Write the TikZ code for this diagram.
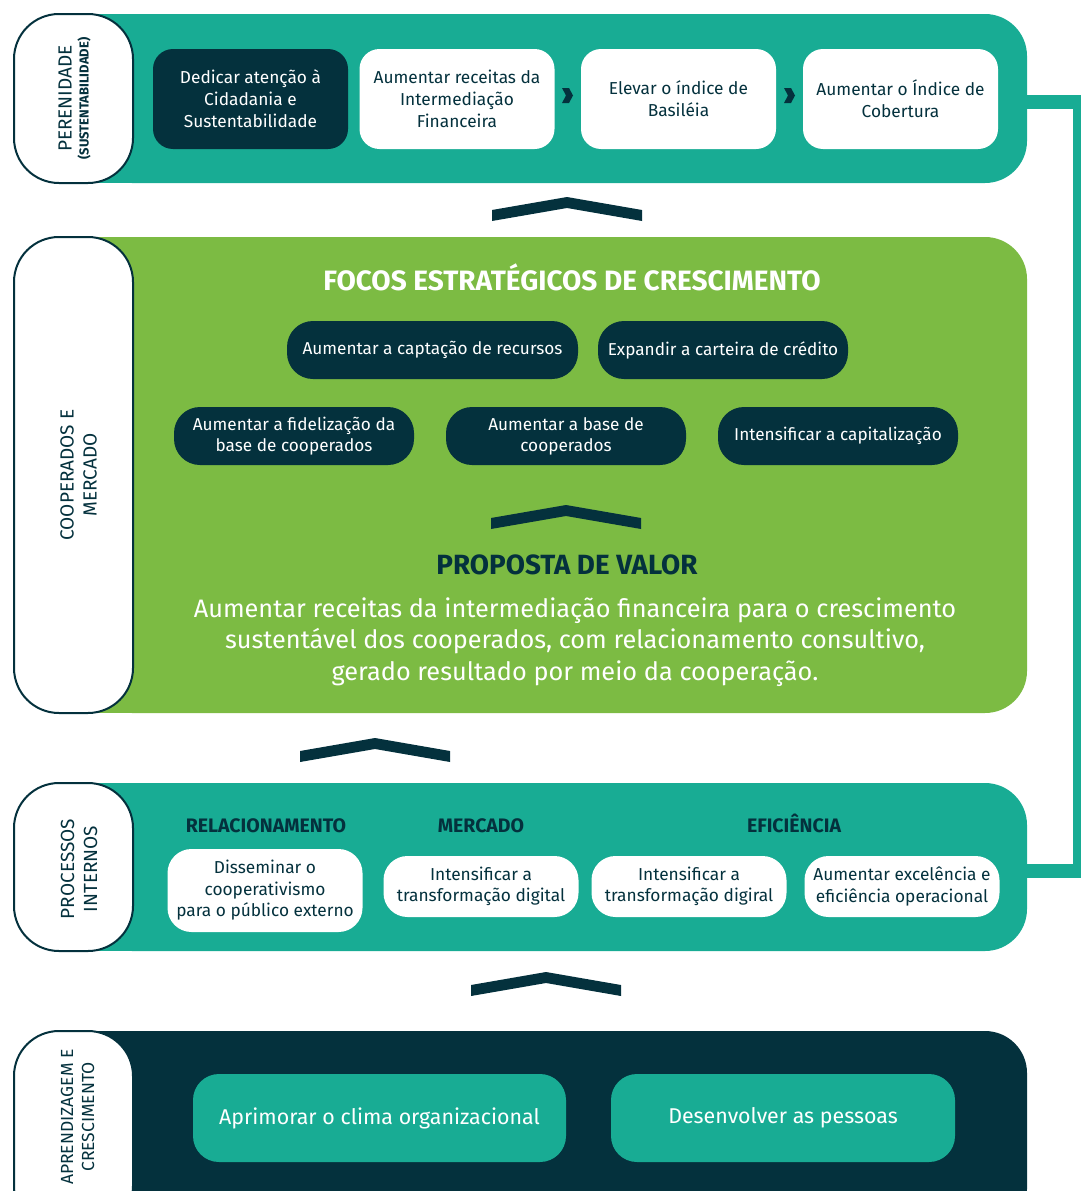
\documentclass[tikz,border=0pt]{standalone}
\usepackage{fontspec}
\setmainfont{Fira Sans}
\usetikzlibrary{positioning}
\definecolor{coopteal}{HTML}{18AC94}
\definecolor{coopgreen}{HTML}{7CBB43}
\definecolor{coopdark}{HTML}{04313D}
\tikzset{band/.style={rounded corners=42pt,inner sep=0,outer sep=0,minimum width=937pt}}
\tikzset{pill/.style={draw=coopdark,line width=2pt,fill=white,rounded corners=45pt,minimum width=119pt,inner sep=0}}
\tikzset{side/.style={rotate=90,text=coopdark,align=center,font=\fontsize{19}{23}\selectfont}}
\tikzset{card/.style={rounded corners=20pt,inner sep=0,align=center,minimum width=195pt,minimum height=100pt,font=\fontsize{17.3}{22}\selectfont}}
\tikzset{wcard/.style={card,fill=white,text=coopdark}}
\tikzset{dcard/.style={card,fill=coopdark,text=white}}
\tikzset{focus/.style={dcard,rounded corners=26pt,minimum width=240pt,minimum height=58pt,font=\fontsize{17.2}{21}\selectfont}}
\tikzset{proc/.style={wcard,rounded corners=24pt,minimum height=61pt,font=\fontsize{17.3}{21.5}\selectfont}}
\tikzset{head/.style={anchor=base,text=coopdark,font=\fontsize{19.5}{22}\selectfont\bfseries}}
\tikzset{link/.style={coopteal,line width=14pt}}
\tikzset{chevup/.pic={\fill[coopdark] (-75,13) -- (0,0) -- (75,13) -- (75,24) -- (0,11) -- (-75,24) -- cycle;}}
\tikzset{chevright/.pic={\fill[coopdark] (0,0) -- (7,0) -- (11,7.5) -- (7,15) -- (0,15) -- (4,7.5) -- cycle;}}

\begin{document}
\begin{tikzpicture}[x=1pt,y=-1pt]
    \useasboundingbox (0,0) rectangle (1081,1191);
    \node [band,fill=coopteal,minimum height=169pt] (perband) at (558.5,98.5) {};
    \node [band,fill=coopgreen,minimum height=476pt] (coopband) at (558.5,475) {};
    \node [band,fill=coopteal,minimum height=168pt] (procband) at (558.5,867) {};
    \node [band,fill=coopdark,minimum height=200pt] (learnband) at (558.5,1131) {};
    \fill [coopteal] (perband.north west) rectangle ++(100,169);
    \fill [coopgreen] (coopband.north west) rectangle ++(100,476);
    \fill [coopteal] (procband.north west) rectangle ++(100,168);
    \fill [coopdark] (learnband.north west) rectangle ++(100,200);
    \draw [link] ([yshift=-3pt]perband.east) -- ++(53,0) |- ([yshift=-4pt]procband.east);

    \node [pill,minimum height=169pt] (perpill) at (73.5,98.5) {};
    \node [pill,minimum height=476pt] (cooppill) at (73.5,475) {};
    \node [pill,minimum height=168pt] (procpill) at (73.5,867) {};
    \node [pill,minimum height=200pt] (learnpill) at (73.5,1131) {};
    \node [side,font=\fontsize{19}{21}\selectfont] (perlbl) at (74.5,98.5) {PERENIDADE\\[-4pt]{\fontsize{13}{14}\selectfont\bfseries(SUSTENTABILIDADE)}};
    \node [side] (cooplbl) at (78.5,475) {COOPERADOS E\\MERCADO};
    \node [side] (proclbl) at (79,869) {PROCESSOS\\INTERNOS};
    \node [side,font=\fontsize{17.5}{21}\selectfont] (learnlbl) at (77.5,1117) {APRENDIZAGEM E\\CRESCIMENTO};

    \node [dcard] (cidadania) at (250.5,99) {Dedicar atenção à\\Cidadania e\\Sustentabilidade};
    \node [wcard] (receitas) at (457,99) {Aumentar receitas da\\Intermediação\\Financeira};
    \node [wcard] (basileia) at (678.5,99) {Elevar o índice de\\Basiléia};
    \node [wcard] (cobertura) at (900.5,99) {Aumentar o Índice de\\Cobertura};
    \pic at (562,88) {chevright};
    \pic at (784,88) {chevright};

    \pic at (567,197) {chevup};
    \node [text=white,font=\fontsize{28}{32}\selectfont\bfseries] (focos) at (572,277) {FOCOS ESTRATÉGICOS DE CRESCIMENTO};
    \node [focus,minimum width=291pt] (captacao) at (432.5,350) {Aumentar a captação de recursos};
    \node [focus,minimum width=250pt] (credito) at (723,350) {Expandir a carteira de crédito};
    \node [focus] (fidelizacao) at (294,436) {Aumentar a fidelização da\\base de cooperados};
    \node [focus] (basecoop) at (566,436) {Aumentar a base de\\cooperados};
    \node [focus] (capital) at (838,436) {Intensificar a capitalização};
    \pic at (566,505) {chevup};
    \node [text=coopdark,font=\fontsize{27.8}{32}\selectfont\bfseries] (proposta) at (567,565) {PROPOSTA DE VALOR};
    \node [text=white,align=center,font=\fontsize{25.3}{31.5}\selectfont] (valor) at (575,642) {Aumentar receitas da intermediação financeira para o crescimento\\sustentável dos cooperados, com relacionamento consultivo,\\gerado resultado por meio da cooperação.};

    \pic at (375,738) {chevup};
    \node [head] (relac) at (266,832) {RELACIONAMENTO};
    \node [head] (mercado) at (481,832) {MERCADO};
    \node [head] (eficiencia) at (794,832) {EFICIÊNCIA};
    \node [proc,minimum height=83pt] (dissem) at (265,890.5) {Disseminar o\\cooperativismo\\para o público externo};
    \node [proc] (digital) at (481,886.5) {Intensificar a\\transformação digital};
    \node [proc] (digiral) at (689,886.5) {Intensificar a\\transformação digiral};
    \node [proc] (excel) at (902,886.5) {Aumentar excelência e\\eficiência operacional};

    \pic at (546,972) {chevup};
    \node [card,fill=coopteal,text=white,rounded corners=26pt,minimum width=373pt,minimum height=88pt,font=\fontsize{21.4}{25}\selectfont] (clima) at (379.5,1118) {Aprimorar o clima organizacional};
    \node [card,fill=coopteal,text=white,rounded corners=26pt,minimum width=344pt,minimum height=88pt,font=\fontsize{21.4}{25}\selectfont] (pessoas) at (783,1118) {Desenvolver as pessoas};
\end{tikzpicture}
\end{document}
